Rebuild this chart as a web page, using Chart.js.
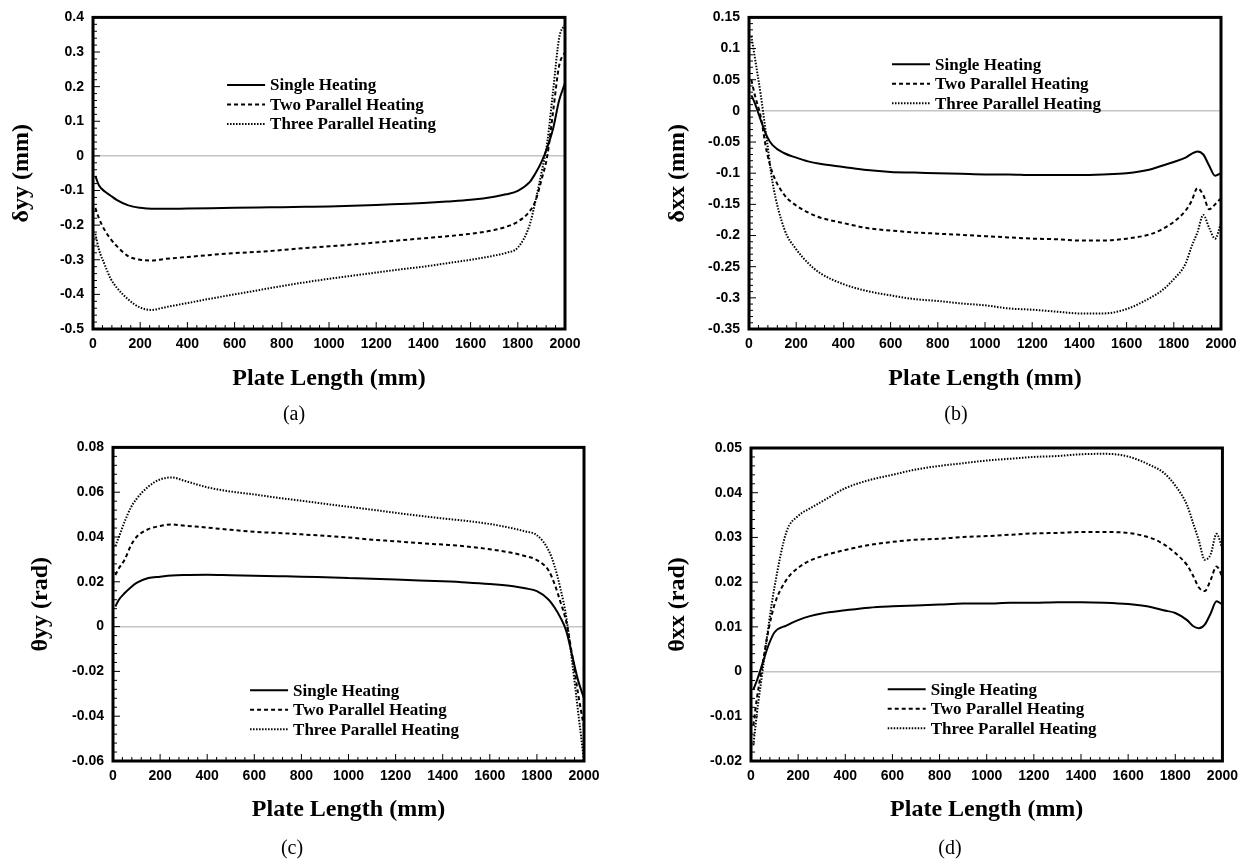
<!DOCTYPE html>
<html>
<head>
<meta charset="utf-8">
<script src="https://cdn.jsdelivr.net/npm/chart.js@4.4.1/dist/chart.umd.min.js"></script>
<style>
  body { margin: 0; background: #fff; width: 1245px; height: 861px; position: relative; overflow: hidden; }
  canvas { position: absolute; }
  .cap { position: absolute; font: 20px "Liberation Serif", "Times New Roman", serif; color: #000; transform: translate(-50%, -50%); }
</style>
</head>
<body>
<canvas id="cA" width="620" height="430" style="left:0;top:0"></canvas>
<canvas id="cB" width="625" height="430" style="left:620px;top:0"></canvas>
<canvas id="cC" width="620" height="431" style="left:0;top:430px"></canvas>
<canvas id="cD" width="625" height="431" style="left:620px;top:430px"></canvas>
<div class="cap" style="left:294px;top:413px">(a)</div>
<div class="cap" style="left:956px;top:413px">(b)</div>
<div class="cap" style="left:292px;top:847px">(c)</div>
<div class="cap" style="left:950px;top:847px">(d)</div>
<script>
// plate length positions (mm), shared by every curve
const plateX = [10, 25, 50, 75, 100, 150, 200, 250, 300, 400, 500, 600, 700, 800, 900, 1000, 1100, 1200,
  1300, 1400, 1500, 1600, 1700, 1750, 1800, 1850, 1875, 1900, 1925, 1950, 1975, 2000];

const seriesNames = ['Single Heating', 'Two Parallel Heating', 'Three Parallel Heating'];

// (a) delta yy (mm)
const dyySingle = [-0.058, -0.085, -0.103, -0.115, -0.127, -0.143, -0.150, -0.153, -0.153, -0.152, -0.151, -0.150,
  -0.149, -0.148, -0.147, -0.146, -0.144, -0.142, -0.139, -0.136, -0.132, -0.127, -0.118, -0.111, -0.101, -0.076,
  -0.05, -0.018, 0.025, 0.08, 0.16, 0.21];
const dyyTwo = [-0.15, -0.18, -0.215, -0.24, -0.26, -0.29, -0.30, -0.302, -0.298, -0.292, -0.286, -0.281, -0.277,
  -0.272, -0.266, -0.261, -0.256, -0.250, -0.244, -0.238, -0.232, -0.225, -0.214, -0.205, -0.19, -0.16, -0.13,
  -0.07, 0.0, 0.13, 0.26, 0.30];
const dyyThree = [-0.225, -0.27, -0.315, -0.355, -0.38, -0.415, -0.438, -0.445, -0.438, -0.425, -0.412, -0.40,
  -0.388, -0.376, -0.365, -0.355, -0.346, -0.337, -0.328, -0.32, -0.31, -0.30, -0.288, -0.28, -0.265, -0.2, -0.13,
  -0.05, 0.04, 0.19, 0.34, 0.38];

// (b) delta xx (mm)
const dxxSingle = [0.025, 0.012, -0.015, -0.04, -0.055, -0.068, -0.075, -0.081, -0.085, -0.09, -0.095, -0.098,
  -0.099, -0.100, -0.101, -0.102, -0.102, -0.103, -0.103, -0.103, -0.102, -0.1, -0.094, -0.088, -0.082, -0.075,
  -0.069, -0.065, -0.07, -0.088, -0.104, -0.10];
const dxxTwo = [0.05, 0.025, -0.01, -0.065, -0.1, -0.135, -0.152, -0.163, -0.171, -0.18, -0.188, -0.192, -0.195,
  -0.197, -0.199, -0.201, -0.203, -0.205, -0.206, -0.208, -0.208, -0.205, -0.198, -0.19, -0.178, -0.16, -0.145,
  -0.124, -0.135, -0.158, -0.15, -0.14];
const dxxThree = [0.12, 0.085, 0.025, -0.045, -0.115, -0.19, -0.222, -0.244, -0.26, -0.278, -0.289, -0.296,
  -0.302, -0.305, -0.309, -0.312, -0.317, -0.319, -0.322, -0.325, -0.325, -0.318, -0.3, -0.288, -0.27, -0.245,
  -0.218, -0.195, -0.167, -0.188, -0.205, -0.18];

// (c) theta yy (rad)
const thyySingle = [0.009, 0.012, 0.015, 0.0175, 0.0195, 0.0217, 0.0223, 0.0228, 0.023, 0.0231, 0.0229, 0.0227,
  0.0225, 0.0223, 0.022, 0.0217, 0.0214, 0.021, 0.0206, 0.0202, 0.0197, 0.019, 0.018, 0.0171, 0.0158, 0.012,
  0.0085, 0.004, -0.002, -0.013, -0.024, -0.032];
const thyyTwo = [0.023, 0.026, 0.03, 0.036, 0.04, 0.0435, 0.0449, 0.0456, 0.0451, 0.0442, 0.0432, 0.0423, 0.0418,
  0.0412, 0.0405, 0.0398, 0.0388, 0.0381, 0.0373, 0.0366, 0.0358, 0.0345, 0.0328, 0.0315, 0.0297, 0.025, 0.019,
  0.011, 0.002, -0.013, -0.03, -0.045];
const thyyThree = [0.036, 0.04, 0.047, 0.053, 0.057, 0.0625, 0.0657, 0.0666, 0.0652, 0.0622, 0.0603, 0.059,
  0.0575, 0.0562, 0.0548, 0.0535, 0.0522, 0.0508, 0.0495, 0.0483, 0.0472, 0.0458, 0.0438, 0.0425, 0.0408, 0.034,
  0.027, 0.017, 0.004, -0.016, -0.038, -0.06];

// (d) theta xx (rad)
const thxxSingle = [-0.004, -0.002, 0.002, 0.006, 0.0088, 0.0103, 0.0115, 0.0124, 0.013, 0.0137, 0.0143, 0.0146,
  0.0148, 0.015, 0.0152, 0.0152, 0.0154, 0.0154, 0.0155, 0.0155, 0.0154, 0.0151, 0.0144, 0.0137, 0.0131, 0.0115,
  0.0102, 0.0097, 0.0105, 0.013, 0.0157, 0.015];
const thxxTwo = [-0.012, -0.006, 0.002, 0.0095, 0.015, 0.0205, 0.0232, 0.0248, 0.0258, 0.0272, 0.0283, 0.029,
  0.0295, 0.0297, 0.0301, 0.0303, 0.0306, 0.0309, 0.031, 0.0312, 0.0312, 0.031, 0.0298, 0.0285, 0.0265, 0.0238,
  0.0215, 0.0188, 0.018, 0.0205, 0.0235, 0.0212];
const thxxThree = [-0.0165, -0.0094, 0.0005, 0.0105, 0.019, 0.0312, 0.0348, 0.0365, 0.038, 0.041, 0.0428, 0.044,
  0.0452, 0.046, 0.0466, 0.0472, 0.0476, 0.048, 0.0482, 0.0486, 0.0487, 0.0481, 0.046, 0.0445, 0.0416, 0.0372,
  0.0333, 0.0293, 0.025, 0.0262, 0.0308, 0.0275];

// tick labels
const lengthTicks = [0, 200, 400, 600, 800, 1000, 1200, 1400, 1600, 1800, 2000];
const dyyTicks = [-0.5, -0.4, -0.3, -0.2, -0.1, 0, 0.1, 0.2, 0.3, 0.4];
const dxxTicks = [-0.35, -0.3, -0.25, -0.2, -0.15, -0.1, -0.05, 0, 0.05, 0.1, 0.15];
const thyyTicks = [-0.06, -0.04, -0.02, 0, 0.02, 0.04, 0.06, 0.08];
const thxxTicks = [-0.02, -0.01, 0, 0.01, 0.02, 0.03, 0.04, 0.05];

const dashes = [[], [4, 3], [1.5, 1.5]];
const serif = '"Liberation Serif", "Times New Roman", serif';
const sans = '"Liberation Sans", Arial, sans-serif';

function isMajor(v, list) {
  return list.some(t => Math.abs(t - v) < 1e-9);
}

// inward tick marks, heavy frame and the in-plot legend
const frameTicks = {
  id: 'frameTicks',
  afterDatasetsDraw(chart, args, opts) {
    const { ctx, chartArea: a } = chart;
    const x = chart.scales.x, y = chart.scales.y;
    ctx.save();
    ctx.strokeStyle = '#000';
    ctx.lineWidth = 1;
    x.ticks.forEach(t => {
      const px = x.getPixelForValue(t.value);
      const len = isMajor(t.value, lengthTicks) ? 7 : 4;
      ctx.beginPath(); ctx.moveTo(px, a.bottom); ctx.lineTo(px, a.bottom - len); ctx.stroke();
    });
    y.ticks.forEach(t => {
      const py = y.getPixelForValue(t.value);
      const len = isMajor(t.value, opts.yTicks) ? 7 : 4;
      ctx.beginPath(); ctx.moveTo(a.left, py); ctx.lineTo(a.left + len, py); ctx.stroke();
    });
    ctx.lineWidth = 3;
    ctx.strokeRect(a.left, a.top, a.right - a.left, a.bottom - a.top);

    ctx.font = 'bold 17px ' + serif;
    ctx.textBaseline = 'middle';
    ctx.fillStyle = '#000';
    chart.data.datasets.forEach((ds, i) => {
      const lx = a.left + opts.legendX * (a.right - a.left);
      const ly = a.top + opts.legendY * (a.bottom - a.top) + i * 19.5;
      ctx.lineWidth = 2;
      ctx.setLineDash(ds.borderDash);
      ctx.beginPath(); ctx.moveTo(lx, ly); ctx.lineTo(lx + 38, ly); ctx.stroke();
      ctx.setLineDash([]);
      ctx.fillText(ds.label, lx + 43, ly + 1);
    });
    ctx.restore();
  }
};

function drawPanel(p) {
  const yMin = p.yTicks[0], yMax = p.yTicks[p.yTicks.length - 1];
  const yStep = (p.yTicks[1] - p.yTicks[0]) / 5;
  const datasets = p.series.map((arr, i) => ({
    label: seriesNames[i],
    data: plateX.map((x, j) => ({ x: x, y: arr[j] })),
    borderColor: '#000',
    borderWidth: 2,
    borderDash: dashes[i],
    pointRadius: 0,
    cubicInterpolationMode: 'monotone',
    fill: false
  }));
  new Chart(document.getElementById(p.id), {
    type: 'line',
    data: { datasets },
    plugins: [frameTicks],
    options: {
      responsive: false,
      animation: false,
      devicePixelRatio: 1,
      layout: { padding: { top: p.top, right: p.right, left: 0, bottom: 0 } },
      plugins: {
        legend: { display: false },
        tooltip: { enabled: false },
        frameTicks: { yTicks: p.yTicks, legendX: p.legendX, legendY: p.legendY }
      },
      scales: {
        x: {
          type: 'linear',
          min: 0, max: 2000,
          afterFit: s => { s.height = p.xBox; },
          border: { display: false },
          grid: { display: false, drawTicks: false },
          ticks: {
            stepSize: 40, autoSkip: false, minRotation: 0, maxRotation: 0, padding: 7,
            color: '#000', font: { family: sans, weight: 'bold', size: 14 },
            callback: v => isMajor(v, lengthTicks) ? String(v) : ''
          },
          title: {
            display: true, text: 'Plate Length (mm)', color: '#000',
            font: { family: serif, weight: 'bold', size: 24 },
            padding: { top: 0, bottom: 36.6 }
          }
        },
        y: {
          min: yMin, max: yMax,
          afterFit: s => { s.width = p.yBox; },
          border: { display: false },
          grid: {
            drawTicks: false,
            lineWidth: 1.5,
            color: c => Math.abs(c.tick.value) < 1e-9 ? '#c4c4c4' : 'rgba(0,0,0,0)'
          },
          ticks: {
            stepSize: yStep, autoSkip: false, padding: 9,
            color: '#000', font: { family: sans, weight: 'bold', size: 14 },
            callback: v => isMajor(v, p.yTicks) ? String(Number(v.toFixed(4))) : ''
          },
          title: {
            display: true, text: p.title, color: '#000',
            font: { family: serif, weight: 'bold', size: 24 },
            padding: { top: p.titlePad, bottom: 0 }
          }
        }
      }
    }
  });
}

drawPanel({ id: 'cA', series: [dyySingle, dyyTwo, dyyThree], yTicks: dyyTicks, title: 'δyy (mm)',
  yBox: 93, xBox: 101, top: 15, right: 55, titlePad: 7.6, legendX: 0.284, legendY: 0.217 });
drawPanel({ id: 'cB', series: [dxxSingle, dxxTwo, dxxThree], yTicks: dxxTicks, title: 'δxx (mm)',
  yBox: 129, xBox: 101, top: 15, right: 24, titlePad: 43.6, legendX: 0.303, legendY: 0.15 });
drawPanel({ id: 'cC', series: [thyySingle, thyyTwo, thyyThree], yTicks: thyyTicks, title: 'θyy (rad)',
  yBox: 113, xBox: 100, top: 17, right: 36, titlePad: 26.6, legendX: 0.291, legendY: 0.774 });
drawPanel({ id: 'cD', series: [thxxSingle, thxxTwo, thxxThree], yTicks: thxxTicks, title: 'θxx (rad)',
  yBox: 131, xBox: 100, top: 18, right: 21, titlePad: 43.6, legendX: 0.29, legendY: 0.771 });
</script>
</body>
</html>
